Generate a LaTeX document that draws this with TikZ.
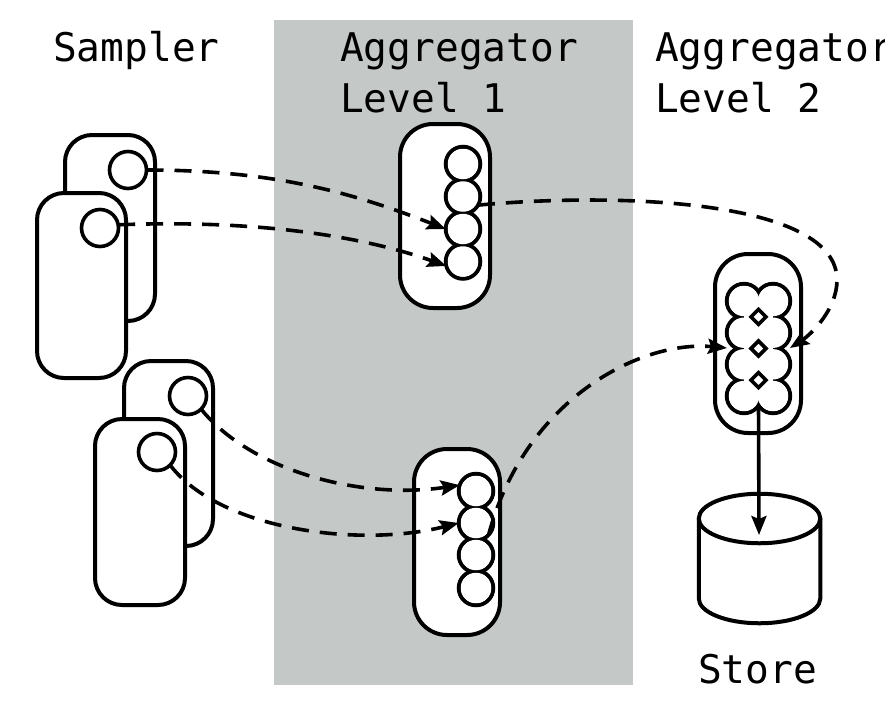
\documentclass[tikz,border=0pt]{standalone}
\usepackage{fontspec}
\newfontfamily\labelfont{DejaVu Sans Mono}
\usetikzlibrary{arrows.meta}
\definecolor{bggray}{RGB}{196,201,199}
\begin{document}
\begin{tikzpicture}[x=1pt,y=-1pt,
  box/.style={draw, line width=4pt, fill=white, rounded corners=#1, inner sep=0pt, outer sep=0pt},
  box/.default=27pt,
  sc/.style={circle, draw, line width=3.6pt, fill=white, minimum size=37pt, inner sep=0pt, outer sep=0pt},
  cc/.style={circle, minimum size=34.5pt, inner sep=0pt, outer sep=0pt},
  lbl/.style={anchor=base west, inner sep=0pt, font=\labelfont\fontsize{39.5}{51}\selectfont, align=left},
  flow/.style={line width=3.6pt, dash pattern=on 17pt off 11pt, -{Stealth[length=19pt,width=15pt,inset=3pt]}},
  solidflow/.style={line width=3.6pt, -{Stealth[length=19pt,width=15pt,inset=3pt]}},
  dia/.style={draw, line width=3.6pt, fill=white}
]
\useasboundingbox (0,0) rectangle (885,702);
% background band
\fill[bggray] (274,20) rectangle (633,685);

% labels
\node[lbl] (tsampler) at (53,61) {Sampler};
\node[lbl] (tagg1) at (340,112) {Aggregator\\Level 1};
\node[lbl] (tagg2) at (655,112) {Aggregator\\Level 2};
\node[lbl] (tstore) at (698,683) {Store};

% samplers, group 1
\node[box, minimum width=90pt, minimum height=186pt] (s1back) at (110,228) {};
\node[sc] (sc1) at (128,170) {};
\node[box, minimum width=89pt, minimum height=185pt] (s1front) at (81.5,285.5) {};
\node[sc] (sc2) at (100,228) {};
% samplers, group 2
\node[box, minimum width=89pt, minimum height=185pt] (s2back) at (168.5,453.5) {};
\node[sc] (sc3) at (188,396) {};
\node[box, minimum width=90pt, minimum height=186pt] (s2front) at (140,512) {};
\node[sc] (sc4) at (157,452) {};

% aggregator level 1 boxes
\node[box=33pt, minimum width=90pt, minimum height=184pt] (a1top) at (445,216) {};
\node[box=33pt, minimum width=86pt, minimum height=186pt] (a1bot) at (457,542) {};
% aggregator level 2 box
\node[box=33pt, minimum width=86pt, minimum height=179pt] (a2) at (758,343.5) {};

% circle columns (level 1)
\foreach \n/\y in {a1c1/164, a1c2/196.5, a1c3/229, a1c4/261.5}
  \node[cc] (\n) at (463,\y) {};
\foreach \n/\y in {a1b1/491, a1b2/523, a1b3/555, a1b4/588}
  \node[cc] (\n) at (476,\y) {};
\foreach \n in {a1c1,a1c2,a1c3,a1c4,a1b1,a1b2,a1b3,a1b4}
  \draw[line width=4pt] (\n.center) circle[radius=17.25pt];
\foreach \n in {a1c1,a1c2,a1c3,a1c4,a1b1,a1b2,a1b3,a1b4}
  \fill[white] (\n.center) circle[radius=15.25pt];

% cloud (level 2)
\foreach \r/\y in {1/301, 2/332.7, 3/364.3, 4/396}{
  \node[cc] (l2a\r) at (744,\y) {};
  \node[cc] (l2b\r) at (773,\y) {};
}
\foreach \n in {l2a1,l2a2,l2a3,l2a4,l2b1,l2b2,l2b3,l2b4}
  \draw[line width=4pt] (\n.center) circle[radius=17.2pt];
\foreach \n in {l2a1,l2a2,l2a3,l2a4,l2b1,l2b2,l2b3,l2b4}
  \fill[white] (\n.center) circle[radius=15.2pt];
\fill[white] (l2a1.center) rectangle (l2b4.center);
% diamonds between the rows
\foreach \y in {316.85, 348.5, 380.15}
  \draw[dia] (758.5,\y-7.5) -- (766,\y) -- (758.5,\y+7.5) -- (751,\y) -- cycle;

\coordinate (l2l) at (727,348);
\coordinate (l2r) at (790,348);
\coordinate (l2bot) at (758.5,405);
\coordinate (cloopr) at (837,280);

% store cylinder
\draw[line width=4pt, fill=white] (698.75,518.5) -- (698.75,598.5)
  arc[start angle=180, end angle=360, x radius=60.75pt, y radius=24.75pt] -- (820.25,518.5);
\draw[line width=4pt, fill=white] (759.5,518.5) ellipse [x radius=60.75pt, y radius=24.75pt];
\coordinate (storetop) at (759,535);

% connectors
\draw[flow] (sc1.east) .. controls +(130,0) and +(-90,-35) .. (a1c3.west);
\draw[flow] (sc2.10) .. controls +(130,-5) and +(-90,-32) .. (a1c4.195);
\draw[flow] (sc3.-45) .. controls +(49,61) and +(-100,15) .. (a1b1.160);
\draw[flow] (sc4.-45) .. controls +(50,65) and +(-99,25) .. (a1b2.west);
\draw[flow] (a1c2.-30) .. controls (620,192) and (837,200) .. (cloopr)
  .. controls +(0,30) and +(20,-13) .. (l2r);
\draw[flow] (a1b2.-43) .. controls +(36,-135) and +(-87,-8) .. (l2l);
\draw[solidflow] (l2bot) -- (storetop);
\end{tikzpicture}
\end{document}
